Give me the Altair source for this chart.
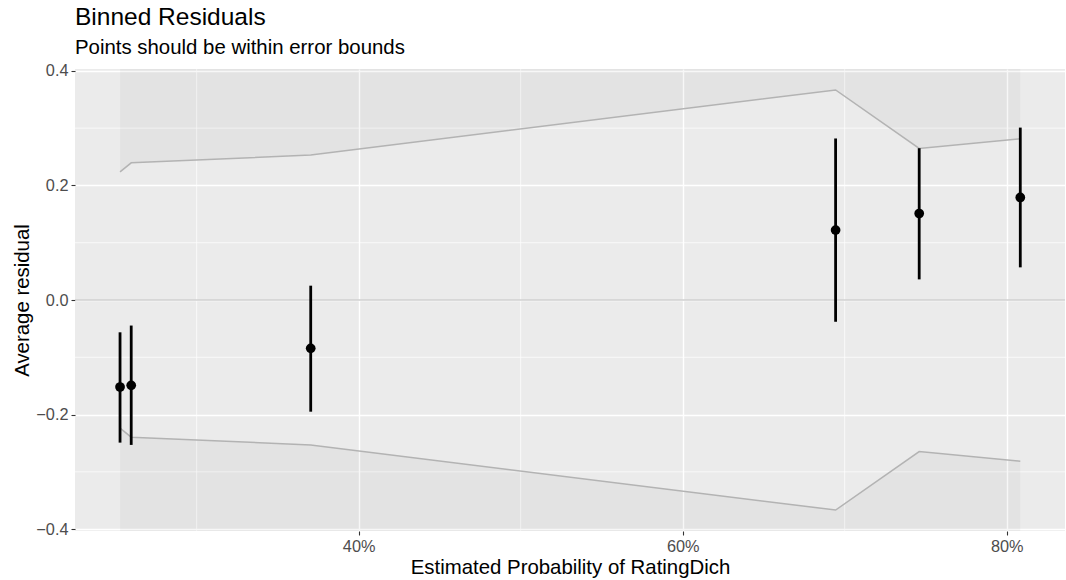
import altair as alt
import pandas as pd

# Binned residual points
prob = [0.2527, 0.2596, 0.3704, 0.6944, 0.7460, 0.8084]
avg_resid = [-0.152, -0.149, -0.0844, 0.122, 0.151, 0.179]
ci_low = [-0.249, -0.253, -0.195, -0.038, 0.036, 0.057]
ci_high = [-0.0564, -0.0446, 0.025, 0.282, 0.265, 0.301]
# Error bounds (+/- 2 SE)
bound = [0.2237, 0.2395, 0.253, 0.3667, 0.2647, 0.2815]

x_major = [0.4, 0.6, 0.8]
x_minor = [0.3, 0.5, 0.7]
y_major = [-0.4, -0.2, 0.0, 0.2, 0.4]
y_minor = [-0.3, -0.1, 0.1, 0.3]

df = pd.DataFrame({"p": prob, "r": avg_resid, "lo": ci_low, "hi": ci_high,
                   "up": bound, "dn": [-b for b in bound]})

FONT = "Liberation Sans"
xdom = [0.2249, 0.836]
ydom = [-0.4033, 0.4033]

xs = alt.Scale(domain=xdom, nice=False, zero=False)
ys = alt.Scale(domain=ydom, nice=False, zero=False)

xax = alt.Axis(values=x_major, format=".0%", title="Estimated Probability of RatingDich",
               grid=True, gridColor="white", gridWidth=1.4, domain=False,
               tickColor="#333333", tickSize=4, tickWidth=1.1, labelPadding=3,
               labelColor="#4D4D4D", labelFontSize=16.3, labelFont=FONT,
               titleFont=FONT, titleFontSize=20.4, titleFontWeight="normal",
               titleColor="black", titlePadding=3)
yax = alt.Axis(values=y_major, format=".1f", title="Average residual",
               labelExpr="replace(datum.label, '-', '\u2212')",
               grid=True, gridColor="white", gridWidth=1.4, domain=False,
               tickColor="#333333", tickSize=4, tickWidth=1.1, labelPadding=3,
               labelColor="#4D4D4D", labelFontSize=16.3, labelFont=FONT,
               titleFont=FONT, titleFontSize=20.4, titleFontWeight="normal",
               titleColor="black", titlePadding=3)

base = alt.Chart(df)

xminor = alt.Chart(pd.DataFrame({"v": x_minor})).mark_rule(color="white", strokeWidth=0.7).encode(
    x=alt.X("v:Q", scale=xs, axis=xax))
yminor = alt.Chart(pd.DataFrame({"v": y_minor})).mark_rule(color="white", strokeWidth=0.7).encode(
    y=alt.Y("v:Q", scale=ys, axis=yax))

rib_up = base.mark_area(color="black", opacity=0.03).encode(
    x=alt.X("p:Q", scale=xs), y=alt.Y("up:Q", scale=ys), y2=alt.datum(ydom[1]))
rib_dn = base.mark_area(color="black", opacity=0.03).encode(
    x=alt.X("p:Q", scale=xs), y=alt.Y("dn:Q", scale=ys), y2=alt.datum(ydom[0]))

zero = alt.Chart(pd.DataFrame({"v": [0.0]})).mark_rule(color="#CFCFCF", strokeWidth=1.4).encode(
    y=alt.Y("v:Q", scale=ys))

line_up = base.mark_line(color="#B3B3B3", strokeWidth=1.5).encode(
    x=alt.X("p:Q", scale=xs), y=alt.Y("up:Q", scale=ys))
line_dn = base.mark_line(color="#B3B3B3", strokeWidth=1.5).encode(
    x=alt.X("p:Q", scale=xs), y=alt.Y("dn:Q", scale=ys))

bars = base.mark_rule(color="black", strokeWidth=2.8).encode(
    x=alt.X("p:Q", scale=xs), y=alt.Y("lo:Q", scale=ys), y2="hi:Q")
pts = base.mark_circle(color="black", opacity=1, size=95).encode(
    x=alt.X("p:Q", scale=xs), y=alt.Y("r:Q", scale=ys))

chart = alt.layer(xminor, yminor, rib_up, rib_dn, zero, line_up, line_dn, bars, pts).properties(
    width=990, height=462, background="white",
    title=alt.TitleParams("Binned Residuals", subtitle="Points should be within error bounds",
                          anchor="start", frame="group", font=FONT, fontSize=24.5,
                          fontWeight="normal", color="black", subtitleFont=FONT,
                          subtitleFontSize=20.4, subtitleColor="black", subtitlePadding=8,
                          offset=3),
    autosize=alt.AutoSizeParams(type="none"),
    padding={"left": 75, "top": 69, "right": 1, "bottom": 49},
).configure_view(fill="#EBEBEB", stroke=None)

chart.save("out.html", embed_options={"renderer": "svg", "actions": False})
